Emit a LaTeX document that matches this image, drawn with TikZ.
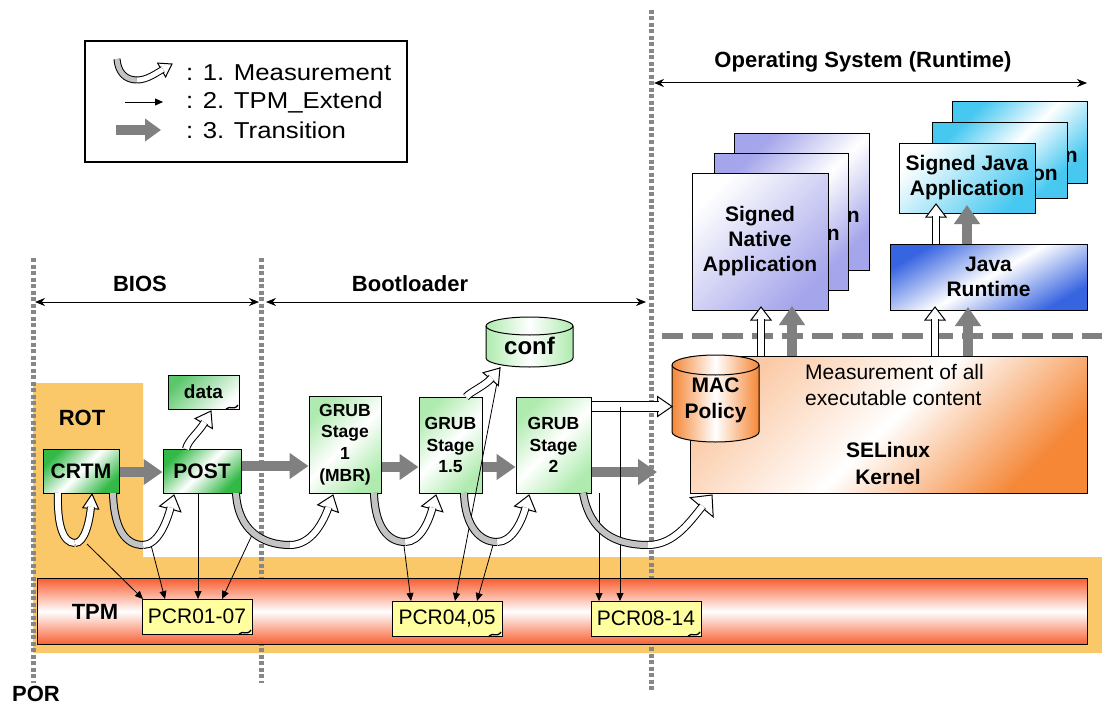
\documentclass[tikz,border=0pt]{standalone}
\usepackage{fontspec}
\setmainfont{Liberation Sans}
\newfontfamily\widefont{Liberation Sans}[FakeStretch=1.12]
\usetikzlibrary{arrows.meta}
\definecolor{band}{RGB}{251,200,105}
\definecolor{tpmred}{RGB}{247,95,50}
\definecolor{notey}{RGB}{255,255,160}
\definecolor{grn}{RGB}{50,185,70}
\definecolor{lgrn}{RGB}{175,235,175}
\definecolor{arrgray}{RGB}{128,128,128}
\definecolor{sepgray}{RGB}{135,135,135}
\definecolor{lav}{RGB}{165,165,235}
\definecolor{cyn}{RGB}{70,200,240}
\definecolor{jblue}{RGB}{55,100,225}
\definecolor{korange}{RGB}{245,135,55}
\definecolor{tailgray}{RGB}{195,195,195}
\newcommand\fsz[2]{\fontsize{#1}{#2}\selectfont}
\newcommand\mhead[5]{%
  \begin{scope}[shift={(#1,#2)},rotate=#3]
    \draw[fill=white,line width=1pt,line join=miter] (-#4/2,#5) -- (0,0) -- (#4/2,#5) -- cycle;
  \end{scope}}
\newcommand\curl[2]{\draw[line width=1.3pt] (#1-13,#2) .. controls (#1-9,#2-4) and (#1-5,#2+2) .. (#1-1,#2-4);}
\begin{document}
\begin{tikzpicture}[x=1pt,y=-1pt,
  box/.style={draw=black,line width=1pt,inner sep=0pt,align=center,font=\bfseries\fsz{21}{25}},
  sep/.style={draw=sepgray,line width=5pt,dash pattern=on 4pt off 2.5pt},
  trans/.style={draw=arrgray,line width=10pt,-{Triangle[length=19pt,width=25pt]}},
  ext/.style={draw=black,line width=0.8pt,-{Triangle[length=8pt,width=7pt]}},
  span/.style={draw=black,line width=1pt,{Stealth[length=10pt,width=8pt]}-{Stealth[length=10pt,width=8pt]}},
  tailshaft/.style={draw=black,line width=1pt,double=tailgray,double distance=6pt},
  headshaft/.style={draw=black,line width=1pt,double=white,double distance=6pt},
  note/.style={draw=black,line width=1pt,fill=notey,inner sep=0pt,minimum width=110pt,minimum height=35pt,font=\fsz{21}{25}},
  lbl/.style={font=\bfseries\fsz{22}{26},inner sep=0pt},
  frag/.style={anchor=east,inner sep=0pt,font=\bfseries\fsz{21}{25}},
  grub/.style={box,font=\bfseries\fsz{17.5}{21.7},top color=lgrn,bottom color=lgrn,middle color=white,shading angle=45},
]
\useasboundingbox (0,0) rectangle (1102,706);
\fill[white] (0,0) rectangle (1102,706);
% orange background
\fill[band] (33,383) -- (143,383) -- (143,557) -- (1102,557) -- (1102,653) -- (33,653) -- cycle;
% phase separators
\draw[sep] (33,258) -- (33,683);
\draw[sep] (261,258) -- (261,683);
\draw[sep] (651,10) -- (651,690);
% TPM bar
\node[draw=black,line width=1pt,minimum width=1050pt,minimum height=66pt,inner sep=0pt,
      top color=tpmred,bottom color=tpmred,middle color=white] (tpmbar) at (562,611.5) {};
\node[lbl] (tpmlbl) at (95,612) {TPM};
\node[note] (pcr1) at (197,616.5) {PCR01-07}; \curl{252}{634}
\node[note] (pcr2) at (447,618.5) {PCR04,05}; \curl{502}{636}
\node[note] (pcr3) at (646,618.5) {PCR08-14}; \curl{701}{636}
\node[lbl] (por) at (36,694) {POR};
\node[lbl] (rot) at (82,418) {ROT};
% legend
\node[draw=black,line width=1.2pt,minimum width=322pt,minimum height=121pt,inner sep=0pt] (legend) at (246,101.5) {};
\draw[tailshaft,double distance=5pt] (117,59) .. controls (118,72) and (125,80) .. (137,80);
\mhead{172}{64}{-60}{16}{12}
\draw[headshaft,double distance=5pt] (137,80) .. controls (147,80) and (156,73.3) .. (162.9,69.3);
\draw[ext] (125,102) -- (163,102);
\draw[draw=arrgray,line width=9pt,-{Triangle[length=16pt,width=22pt]}] (116,130) -- (161,130);
\node[anchor=west,inner sep=0pt,font=\widefont\fsz{23}{26}] (leg1) at (186,73) {: 1. Measurement};
\node[anchor=west,inner sep=0pt,font=\widefont\fsz{23}{26}] (leg2) at (186,102) {: 2. TPM\_Extend};
\node[anchor=west,inner sep=0pt,font=\widefont\fsz{23}{26}] (leg3) at (186,130) {: 3. Transition};
% phase spans
\coordinate (biosL) at (35,302); \coordinate (biosR) at (259,302);
\coordinate (bootL) at (266,302); \coordinate (bootR) at (646,302);
\coordinate (osL) at (654,83); \coordinate (osR) at (1087,83);
\draw[span] (biosL) -- (biosR);
\draw[span] (bootL) -- (bootR);
\draw[span] (osL) -- (osR);
\node[lbl] (bioslbl) at (140,284) {BIOS};
\node[lbl] (bootlbl) at (410,284) {Bootloader};
\node[lbl] (oslbl) at (863,62) {Operating System (Runtime)};
% BIOS boxes
\node[box,minimum width=76pt,minimum height=44pt,top color=grn,bottom color=grn,middle color=white,shading angle=45] (crtm) at (81,471) {CRTM};
\node[box,minimum width=78pt,minimum height=44pt,top color=grn,bottom color=grn,middle color=white,shading angle=45] (post) at (202,471) {POST};
\node[box,minimum width=71pt,minimum height=34pt,font=\bfseries\fsz{19}{22},top color=grn!80,bottom color=white,shading angle=45] (data) at (203.5,392) {data}; \curl{239}{409}
% bootloader boxes
\node[grub,minimum width=72pt,minimum height=97pt] (grub1) at (345,444.5) {GRUB\\Stage\\1\\(MBR)};
\node[grub,minimum width=63pt,minimum height=96pt] (grub15) at (450.5,445) {GRUB\\Stage\\1.5};
\node[grub,minimum width=75pt,minimum height=96pt] (grub2) at (553.5,445) {GRUB\\Stage\\2};
% conf cylinder
\path[draw=black,line width=1pt,left color=lgrn,right color=lgrn,middle color=white]
  (486,326) -- (486,358) arc[start angle=180,end angle=360,x radius=43.5pt,y radius=9pt]
  -- (573,326) arc[start angle=0,end angle=180,x radius=43.5pt,y radius=9pt] -- cycle;
\draw[line width=1pt] (486,326) arc[start angle=180,end angle=360,x radius=43.5pt,y radius=9pt];
\node[font=\bfseries\fsz{24}{26},inner sep=0pt] (conf) at (529.5,346) {conf};
% OS region
\draw[draw=arrgray,line width=6pt,dash pattern=on 21pt off 9pt] (662,336) -- (1102,336);
\node[box,minimum width=397pt,minimum height=137pt,top color=korange!45,bottom color=korange,middle color=white,shading angle=45] (kernel) at (888.5,424.5) {};
\node[font=\bfseries\fsz{21}{27},align=center,inner sep=0pt] (seltxt) at (888,463) {SELinux\\Kernel};
\node[font=\fsz{21}{26},align=left,anchor=west,inner sep=0pt] (meas) at (805,385) {Measurement of all\\executable content};
\path[draw=black,line width=1pt,left color=korange,right color=korange,middle color=white]
  (672,365) -- (672,432) arc[start angle=180,end angle=360,x radius=43.5pt,y radius=10pt]
  -- (759,365) arc[start angle=0,end angle=180,x radius=43.5pt,y radius=10pt] -- cycle;
\draw[line width=1pt] (672,365) arc[start angle=180,end angle=360,x radius=43.5pt,y radius=10pt];
\node[font=\bfseries\fsz{21}{26},align=center,inner sep=0pt] (mac) at (715.5,400) {MAC\\Policy};
% native application stack
\node[box,minimum width=135pt,minimum height=137pt,top color=lav,bottom color=lav,middle color=white,shading angle=45] (nat3) at (801.5,201.5) {};
\node[frag] (nat3t) at (860,217) {n};
\node[box,minimum width=134pt,minimum height=137pt,top color=lav,bottom color=lav,middle color=white,shading angle=45] (nat2) at (781,221.5) {};
\node[frag] (nat2t) at (840,235) {n};
\node[box,minimum width=136pt,minimum height=137pt,top color=white,bottom color=lav,shading angle=45] (nat1) at (760,241.5) {Signed\\Native\\Application};
% java application stack
\node[box,minimum width=135pt,minimum height=81pt,top color=cyn,bottom color=cyn,middle color=white,shading angle=45] (jav3) at (1019.5,142.5) {};
\node[frag] (jav3t) at (1078,157) {n};
\node[box,minimum width=135pt,minimum height=76pt,top color=cyn,bottom color=cyn,middle color=white,shading angle=45] (jav2) at (999.5,160.5) {};
\node[frag] (jav2t) at (1058,175) {on};
\node[box,minimum width=136pt,minimum height=70pt,top color=white,bottom color=cyn,shading angle=45] (jav1) at (967,178) {Signed Java\\Application};
\node[box,minimum width=197pt,minimum height=66pt,top color=jblue,bottom color=jblue,middle color=white,shading angle=30] (jrt) at (988.5,277) {Java\\Runtime};
% transitions
\draw[trans] (crtm.east |- 0,472) -- (post.west |- 0,472);
\draw[trans] (post.east |- 0,466) -- (grub1.west |- 0,466);
\draw[trans] (grub1.east |- 0,467) -- (grub15.west |- 0,467);
\draw[trans] (grub15.east |- 0,467) -- (grub2.west |- 0,467);
\draw[trans] (grub2.east |- 0,472) -- (657,472);
\draw[trans] (kernel.north -| 792,0) -- (792,306);
\draw[trans] (kernel.north -| 968,0) -- (968,307);
\draw[trans] (jrt.north -| 967,0) -- (967,205);
% hollow straight arrows
\mhead{672}{406.5}{-90}{20}{14.5}
\draw[headshaft,double distance=9pt] (grub2.east |- 0,406.5) -- (659,406.5);
\mhead{761}{307}{0}{20}{13}
\draw[headshaft] (kernel.north -| 761,0) -- (761,318.5);
\mhead{935}{307}{0}{20}{13}
\draw[headshaft] (kernel.north -| 935,0) -- (935,318.5);
\mhead{936}{204}{0}{20}{13}
\draw[headshaft] (jrt.north -| 936,0) -- (936,215.5);
% TPM_Extend
\draw[ext] (87,544) -- (143,599);
\draw[ext] (151,545) -- (165,599);
\draw[ext] (198,493) -- (198,599);
\draw[ext] (252,535) -- (222,599);
\draw[ext] (403,538) -- (411,601);
\draw[ext] (500,367) -- (455,601);
\draw[ext] (495,538) -- (477,601);
\draw[ext] (599,493) -- (599,601);
\draw[ext] (620,406.5) -- (620,601);
% measurements
\mhead{92}{494}{-5}{16}{14.5}
\draw[headshaft] (58,493) .. controls (57,525) and (63,543) .. (75,543);
\draw[headshaft] (75,543) .. controls (85,543) and (89.8,520) .. (90.9,507);
\mhead{174}{495}{-15}{22}{14.5}
\draw[tailshaft] (113,493) .. controls (114,530) and (126,545) .. (143,545);
\draw[headshaft] (143,545) .. controls (158,545) and (166.7,522) .. (170.6,507.6);
\mhead{333}{495}{-20}{22}{14.5}
\draw[tailshaft] (236,493) .. controls (238,530) and (262,545) .. (290,545);
\draw[headshaft] (290,545) .. controls (312,545) and (323.5,521.3) .. (328.6,507.2);
\mhead{436}{495}{-15}{22}{14.5}
\draw[tailshaft] (374,493) .. controls (375,528) and (389,542) .. (405,542);
\draw[headshaft] (405,542) .. controls (420,542) and (428.7,522) .. (432.6,507.6);
\mhead{529}{495}{-15}{22}{14.5}
\draw[tailshaft] (464,493) .. controls (465,528) and (481,542) .. (497,542);
\draw[headshaft] (497,542) .. controls (512,542) and (521.7,522) .. (525.6,507.6);
\mhead{712}{495}{-40}{30}{16}
\draw[tailshaft] (583,493) .. controls (590,532) and (615,545) .. (648,545);
\draw[headshaft] (648,545) .. controls (675,545) and (691.1,519.9) .. (702.7,506.1);
\mhead{211}{411}{-30}{20}{14.5}
\draw[headshaft] (186,449) .. controls (188,440) and (198.5,432.7) .. (204.5,422.3);
\mhead{500}{368}{-40}{20}{14.5}
\draw[headshaft] (466,397) .. controls (470,392) and (485.2,385.7) .. (491.6,378);
\end{tikzpicture}
\end{document}
